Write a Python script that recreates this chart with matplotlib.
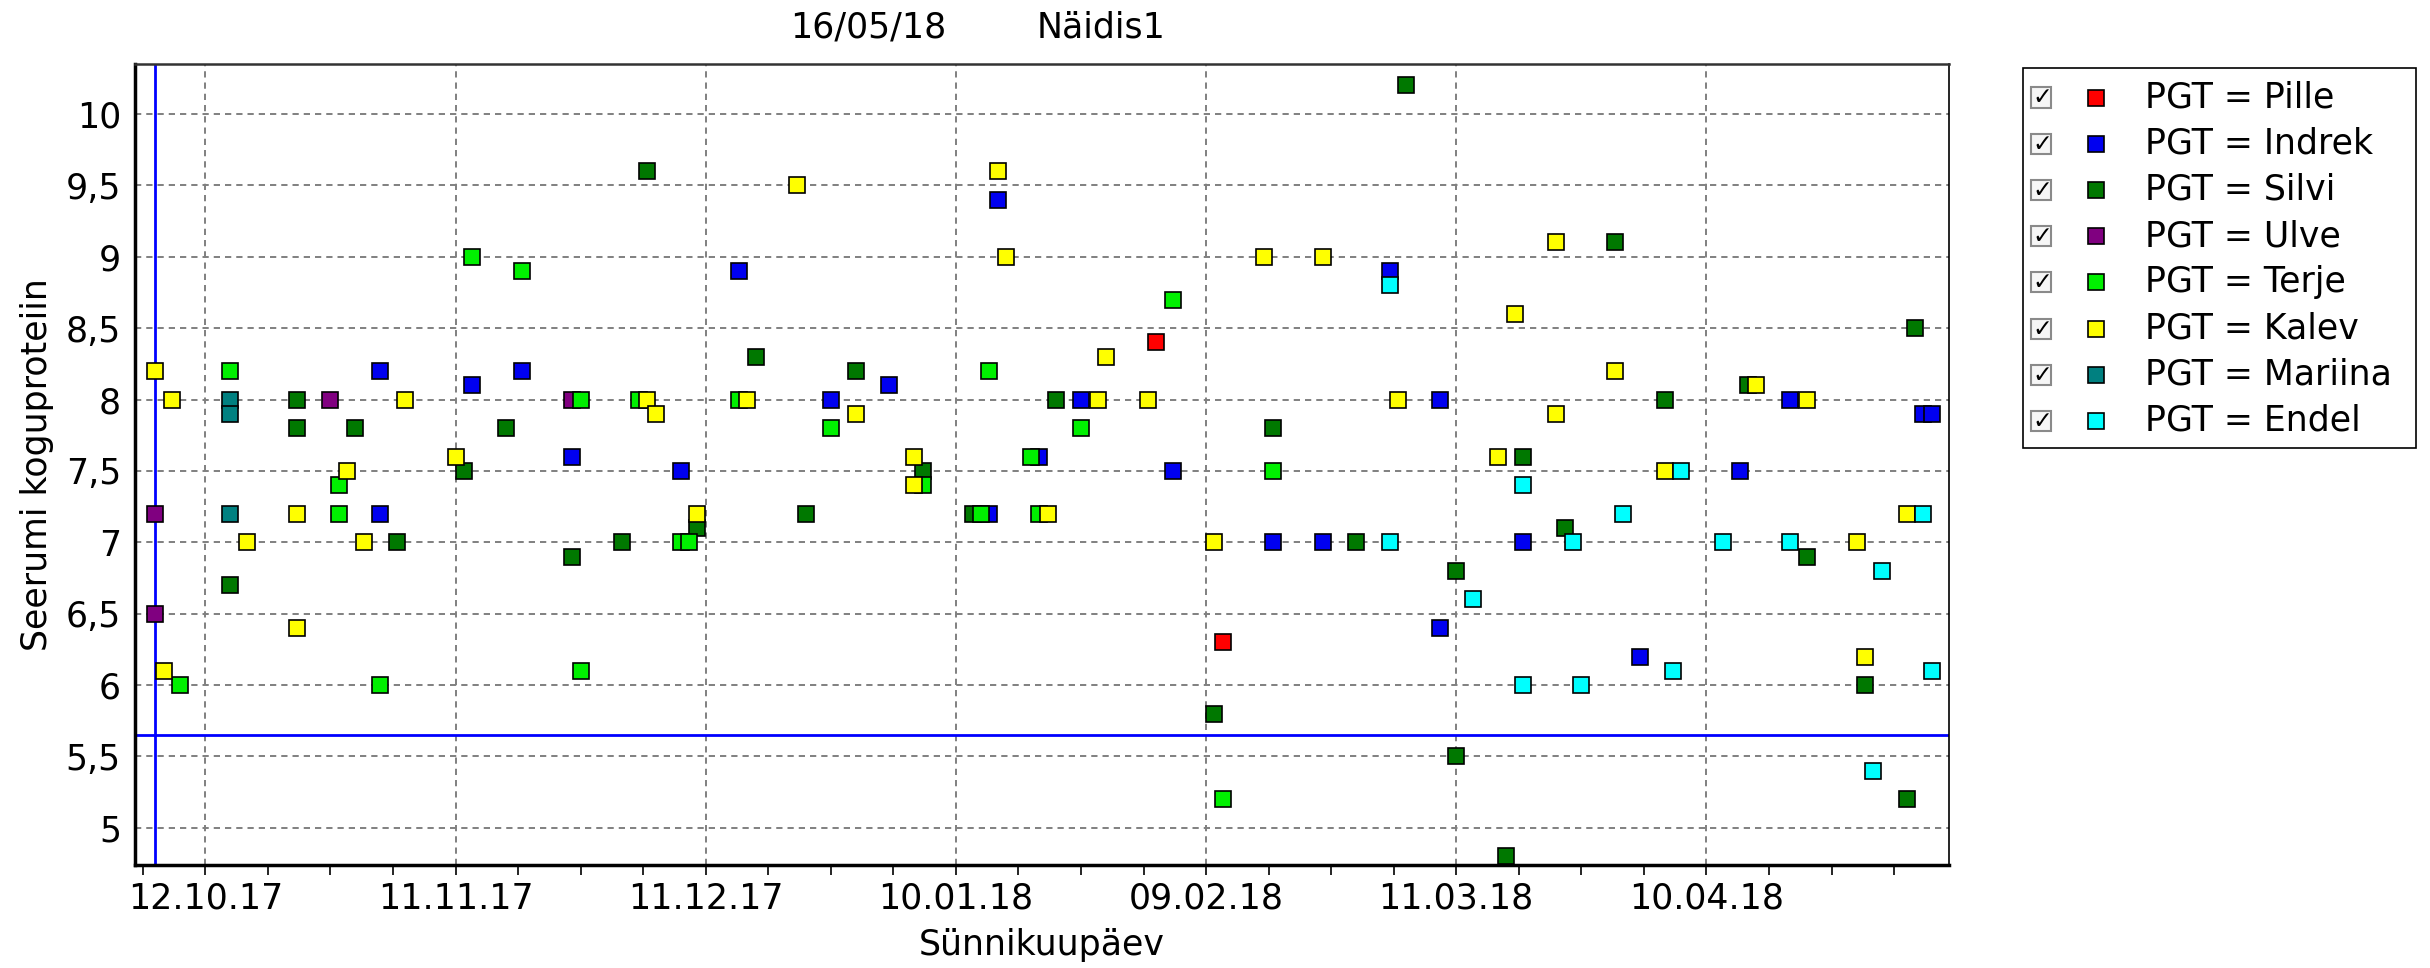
import matplotlib
matplotlib.use("Agg")
import matplotlib.pyplot as plt  # joonised
import matplotlib.dates as mdates
from matplotlib.patches import Rectangle
from matplotlib.lines import Line2D
import numpy as np
import pandas as pd

plt.rcParams['font.family'] = ['DejaVu Sans']
plt.rcParams['lines.scale_dashes'] = False

# ANDMED: sünnikuupäev (pp.kk.aa) ja seerumi koguproteiin, PGT kaupa
pille_kp = ["03.02.18", "11.02.18"]
pille_val = [8.4, 6.3]

indrek_kp = ["02.11.17", "02.11.17", "13.11.17", "19.11.17", "25.11.17", "08.12.17", "15.12.17",
             "26.12.17", "02.01.18", "14.01.18", "15.01.18", "20.01.18", "25.01.18", "05.02.18",
             "17.02.18", "23.02.18", "03.03.18", "09.03.18", "09.03.18", "19.03.18", "02.04.18",
             "14.04.18", "20.04.18", "06.05.18", "07.05.18"]
indrek_val = [8.2, 7.2, 8.1, 8.2, 7.6, 7.5, 8.9,
              8.0, 8.1, 7.2, 9.4, 7.6, 8.0, 7.5,
              7.0, 7.0, 8.9, 8.0, 6.4, 7.0, 6.2,
              7.5, 8.0, 7.9, 7.9]

silvi_kp = ["15.10.17", "23.10.17", "23.10.17", "30.10.17", "04.11.17", "12.11.17", "17.11.17",
            "25.11.17", "01.12.17", "04.12.17", "10.12.17", "17.12.17", "23.12.17", "29.12.17",
            "06.01.18", "12.01.18", "22.01.18", "10.02.18", "17.02.18", "27.02.18", "05.03.18",
            "11.03.18", "11.03.18", "17.03.18", "19.03.18", "24.03.18", "30.03.18", "05.04.18",
            "15.04.18", "22.04.18", "29.04.18", "04.05.18", "05.05.18"]
silvi_val = [6.7, 8.0, 7.8, 7.8, 7.0, 7.5, 7.8,
             6.9, 7.0, 9.6, 7.1, 8.3, 7.2, 8.2,
             7.5, 7.2, 8.0, 5.8, 7.8, 7.0, 10.2,
             6.8, 5.5, 4.8, 7.6, 7.1, 9.1, 8.0,
             8.1, 6.9, 6.0, 5.2, 8.5]

ulve_kp = ["06.10.17", "06.10.17", "27.10.17", "25.11.17"]
ulve_val = [7.2, 6.5, 8.0, 8.0]

terje_kp = ["09.10.17", "15.10.17", "28.10.17", "28.10.17", "02.11.17", "13.11.17", "19.11.17",
            "26.11.17", "26.11.17", "03.12.17", "08.12.17", "09.12.17", "15.12.17", "26.12.17",
            "06.01.18", "13.01.18", "14.01.18", "19.01.18", "20.01.18", "25.01.18", "05.02.18",
            "11.02.18", "17.02.18"]
terje_val = [6.0, 8.2, 7.4, 7.2, 6.0, 9.0, 8.9,
             8.0, 6.1, 8.0, 7.0, 7.0, 8.0, 7.8,
             7.4, 7.2, 8.2, 7.6, 7.2, 7.8, 8.7,
             5.2, 7.5]

kalev_kp = ["06.10.17", "07.10.17", "08.10.17", "17.10.17", "23.10.17", "23.10.17", "29.10.17",
            "31.10.17", "05.11.17", "11.11.17", "04.12.17", "05.12.17", "10.12.17", "16.12.17",
            "22.12.17", "29.12.17", "05.01.18", "05.01.18", "15.01.18", "16.01.18", "21.01.18",
            "27.01.18", "28.01.18", "02.02.18", "10.02.18", "16.02.18", "23.02.18", "04.03.18",
            "16.03.18", "18.03.18", "23.03.18", "23.03.18", "30.03.18", "05.04.18", "16.04.18",
            "22.04.18", "28.04.18", "29.04.18", "04.05.18"]
kalev_val = [8.2, 6.1, 8.0, 7.0, 7.2, 6.4, 7.5,
             7.0, 8.0, 7.6, 8.0, 7.9, 7.2, 8.0,
             9.5, 7.9, 7.6, 7.4, 9.6, 9.0, 7.2,
             8.0, 8.3, 8.0, 7.0, 9.0, 9.0, 8.0,
             7.6, 8.6, 9.1, 7.9, 8.2, 7.5, 8.1,
             8.0, 7.0, 6.2, 7.2]

mariina_kp = ["15.10.17", "15.10.17", "15.10.17"]
mariina_val = [8.0, 7.9, 7.2]

endel_kp = ["03.03.18", "03.03.18", "13.03.18", "19.03.18", "19.03.18", "25.03.18", "26.03.18",
            "31.03.18", "06.04.18", "07.04.18", "12.04.18", "20.04.18", "30.04.18", "01.05.18",
            "06.05.18", "07.05.18"]
endel_val = [8.8, 7.0, 6.6, 7.4, 6.0, 7.0, 6.0,
             7.2, 6.1, 7.5, 7.0, 7.0, 5.4, 6.8,
             7.2, 6.1]

nimed = ["Pille", "Indrek", "Silvi", "Ulve", "Terje", "Kalev", "Mariina", "Endel"]
varvid = ["#ff0000", "#0000f0", "#007800", "#800080", "#00f000", "#ffff00", "#008080", "#00ffff"]
kp_koik = [pille_kp, indrek_kp, silvi_kp, ulve_kp, terje_kp, kalev_kp, mariina_kp, endel_kp]
val_koik = [pille_val, indrek_val, silvi_val, ulve_val, terje_val, kalev_val, mariina_val, endel_val]

# piirjooned
piir_kp = "06.10.17"
piir_val = 5.65

# JOONIS
fig = plt.figure(figsize=(24.3, 9.68), dpi=100)
ax = fig.add_axes([0.05547, 0.1064, 0.74646, 0.82748])

for i in range(len(nimed)):
    x = pd.to_datetime(kp_koik[i], format="%d.%m.%y")
    ax.plot(x, val_koik[i], linestyle='none', marker='s', ms=11,
            mfc=varvid[i], mec='black', mew=1.2, zorder=3 + i)

ax.axhline(piir_val, color='#0000ff', lw=2.0, zorder=2)
ax.axvline(pd.to_datetime(piir_kp, format="%d.%m.%y"), color='#0000ff', lw=2.0, zorder=2)

# teljed
algus = pd.Timestamp("2017-10-12")
ax.set_xlim(algus - pd.Timedelta(days=8.46), algus + pd.Timedelta(days=209.05))
ax.set_ylim(4.74, 10.35)

ax.set_xticks([algus + pd.Timedelta(days=30 * k) for k in range(7)])
ax.set_xticks([algus + pd.Timedelta(days=7.5 * k) for k in range(-1, 28)], minor=True)
ax.xaxis.set_major_formatter(mdates.DateFormatter("%d.%m.%y"))

yticks = np.arange(5, 10.01, 0.5)
ax.set_yticks(yticks)
ax.set_yticklabels([("%g" % v).replace(".", ",") for v in yticks])

ax.tick_params(axis='x', which='both', direction='out', length=7, width=1.2, pad=5, labelsize=25)
ax.tick_params(axis='y', which='both', length=0, pad=10, labelsize=25)

ax.grid(True, which='major', color='#808080', linestyle=(0, (4.5, 3.6)), linewidth=1.4)
ax.set_axisbelow(True)

ax.spines['left'].set_linewidth(2.5)
ax.spines['bottom'].set_linewidth(2.5)
ax.spines['top'].set_linewidth(1.8)
ax.spines['top'].set_color('#333333')
ax.spines['right'].set_linewidth(1.2)

ax.set_xlabel("Sünnikuupäev", fontsize=25)
ax.xaxis.set_label_coords(0.5, -0.079)
ax.set_ylabel("Seerumi koguproteiin", fontsize=25)
ax.yaxis.set_label_coords(-0.0444, 0.5)

# pealkiri
fig.text(790 / 2430, 1 - 27.5 / 968, "16/05/18", fontsize=25, ha='left', va='center')
fig.text(1037 / 2430, 1 - 27.5 / 968, "Näidis1", fontsize=25, ha='left', va='center')

# LEGEND (käsitsi, koos märkeruutudega)
W, H = 2430.0, 968.0
fig.add_artist(Rectangle((2022.7 / W, 1 - 448.3 / H), 393.3 / W, 380 / H, transform=fig.transFigure,
                         facecolor='white', edgecolor='black', lw=1.2))
for i in range(len(nimed)):
    yc = 1 - (97.5 + 46.2 * i) / H
    fig.add_artist(Rectangle(((2041 - 10) / W, yc - 10 / H), 20 / W, 20 / H, transform=fig.transFigure,
                             facecolor='#f6f6f6', edgecolor='#8a8a8a', lw=1.5))
    fig.text(2042 / W, yc, "✓", fontsize=17, fontweight='bold', ha='center', va='center')
    fig.add_artist(Line2D([2096.4 / W], [yc], transform=fig.transFigure, linestyle='none', marker='s',
                          ms=11, mfc=varvid[i], mec='black', mew=1.2))
    fig.text(2145 / W, yc, "PGT = " + nimed[i], fontsize=25, ha='left', va='center')

fig.savefig("out.png", dpi=100)
